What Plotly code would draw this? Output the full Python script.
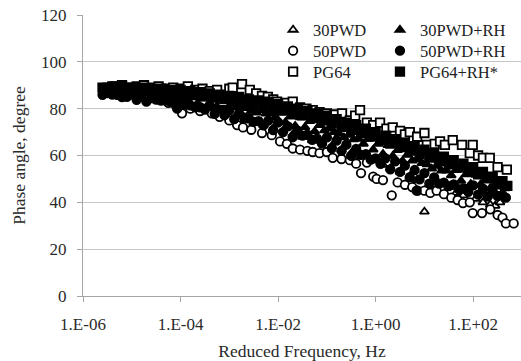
import plotly.graph_objects as go

# ---------------- data (log10 of reduced frequency in Hz, phase angle in degrees) ----------------
logf_30pwd = [-5.50, -5.30, -5.10, -4.90, -4.70, -4.50, -4.30, -4.10, -3.90, -3.70, -3.50, -3.30,
              -3.10, -2.90, -2.70, -2.50, -2.30, -2.10, -1.90, -1.70, -1.50, -1.30, -1.10, -0.90,
              -0.70, -0.50, -0.30, -0.10, 0.15, 0.30, 0.50, 0.70, 0.85, 1.00, 1.10, 1.25, 1.37,
              1.50, 1.65, 1.80, 1.90, 2.05, 2.20, 2.35, 2.45, 2.55]
deg_30pwd = [86.5, 86, 85.5, 85, 84, 83.5, 83, 82, 81, 80, 79.5, 78.5,
             77.5, 76, 75, 74, 73, 71.5, 70.5, 69, 68, 66.5, 65.5, 64,
             62.5, 61, 59.5, 58, 56, 54.5, 53, 51, 49.5, 36, 47.5, 45.5, 55,
             46.5, 44, 43, 46.5, 41.5, 40, 39, 38.5, 40]

logf_30pwd_rh = [-5.55, -5.45, -5.35, -5.25, -5.15, -5.05, -4.95, -4.85, -4.75, -4.65, -4.55, -4.45,
                 -4.35, -4.25, -4.15, -4.05, -3.95, -3.85, -3.75, -3.65, -3.55, -3.45, -3.35, -3.25,
                 -3.15, -3.05, -2.95, -2.85, -2.75, -2.65, -2.55, -2.45, -2.35, -2.25, -2.15, -2.05,
                 -1.95, -1.85, -1.75, -1.65, -1.55, -1.45, -1.35, -1.25, -1.15, -1.05, -0.95, -0.85,
                 -0.75, -0.65, -0.55, -0.45, -0.35, -0.25, -0.15, -0.05, 0.05, 0.15, 0.25, 0.35,
                 0.45, 0.55, 0.65, 0.75, 0.85, 0.95, 1.05, 1.15, 1.25, 1.35, 1.45, 1.55,
                 1.65, 1.75, 1.85, 1.95, 2.05, 2.15, 2.25, 2.35, 2.45, 2.55, 2.65]
deg_30pwd_rh = [88.6, 86.4, 88.1, 85.8, 88.8, 86.2, 87.7, 85.1, 87.0, 86.4, 86.1, 86.4,
                85.2, 85.1, 85.4, 84.9, 84.5, 83.8, 85.5, 82.4, 84.4, 81.4, 84.6, 81.3,
                83.3, 79.9, 82.1, 80.7, 81.0, 80.2, 79.1, 78.3, 79.3, 77.9, 77.9, 76.4,
                78.4, 74.2, 76.6, 72.6, 76.3, 72.1, 74.7, 70.3, 73.0, 70.7, 71.6, 70.0,
                69.4, 67.7, 68.8, 66.9, 67.1, 65.0, 67.1, 62.5, 65.0, 60.6, 64.4, 59.8,
                62.3, 57.7, 60.3, 57.8, 58.4, 56.8, 56.2, 54.4, 55.6, 53.5, 53.6, 51.5,
                53.8, 49.2, 51.9, 47.8, 51.7, 47.6, 49.7, 46.1, 47.8, 46.7, 46.0]

logf_50pwd = [-5.45, -5.25, -5.05, -4.85, -4.65, -4.45, -4.25, -4.10, -3.97, -3.80, -3.60, -3.36,
              -3.20, -3.00, -2.84, -2.72, -2.55, -2.33, -2.13, -1.96, -1.82, -1.70, -1.55, -1.40,
              -1.29, -1.15, -1.00, -0.88, -0.70, -0.53, -0.40, -0.30, -0.18, -0.05, 0.02, 0.15,
              0.33, 0.45, 0.60, 0.75, 0.86, 1.00, 1.12, 1.25, 1.40, 1.55, 1.68, 1.79, 1.93,
              1.99, 2.18, 2.35, 2.50, 2.60, 2.67, 2.83]
deg_50pwd = [87.5, 86.5, 86, 85.5, 84.5, 84, 82.5, 81.5, 78, 80, 79, 78,
             76.5, 75, 73, 72, 71, 69.6, 68.7, 66, 65, 63, 62.5, 62,
             61.5, 61, 61.5, 59, 58.5, 58, 56.5, 52.5, 57, 51, 50, 49.5,
             43, 48.5, 47.5, 46.5, 45, 45, 44, 45, 43.5, 42, 41, 39.7, 40,
             35.4, 35.4, 37, 34.6, 33.5, 31, 31]

logf_50pwd_rh = [-5.6, -5.5, -5.4, -5.3, -5.2, -5.1, -5.0, -4.9, -4.8, -4.7, -4.6, -4.5,
                 -4.4, -4.3, -4.2, -4.1, -4.07, -4.0, -3.9, -3.8, -3.7, -3.6, -3.5, -3.4,
                 -3.3, -3.2, -3.1, -3.0, -2.9, -2.8, -2.7, -2.6, -2.5, -2.4, -2.3, -2.2,
                 -2.1, -2.0, -1.9, -1.8, -1.7, -1.6, -1.5, -1.4, -1.3, -1.2, -1.1, -1.0,
                 -0.9, -0.8, -0.7, -0.6, -0.5, -0.4, -0.3, -0.2, -0.1, 0.0, 0.1, 0.2,
                 0.3, 0.4, 0.5, 0.6, 0.7, 0.8, 0.84, 0.9, 1.0, 1.1, 1.2, 1.3,
                 1.4, 1.5, 1.6, 1.7, 1.8, 1.9, 2.0, 2.1, 2.2, 2.3, 2.4, 2.5,
                 2.6, 2.67]
deg_50pwd_rh = [85.9, 86.7, 86.0, 85.9, 84.9, 85.0, 86.4, 83.8, 85.4, 83.0, 84.6, 83.9,
                83.4, 83.4, 82.9, 82.1, 80.0, 82.6, 81.8, 81.4, 80.6, 80.6, 79.6, 81.2,
                77.8, 80.5, 77.2, 79.3, 75.5, 78.0, 76.3, 75.9, 74.4, 74.7, 72.9, 74.9,
                70.8, 74.1, 70.0, 72.4, 67.8, 70.6, 68.5, 68.9, 66.7, 67.2, 65.1, 67.7,
                63.1, 66.4, 62.0, 64.6, 59.8, 62.8, 60.3, 60.6, 58.2, 58.8, 56.4, 58.8,
                54.1, 57.5, 53.0, 55.7, 50.8, 53.8, 45.0, 49.8, 52.5, 48.0, 50.7, 48.0,
                48.4, 46.9, 47.7, 45.6, 45.9, 44.5, 47.2, 43.3, 45.8, 42.5, 44.7, 42.7,
                43.1, 42.0]

logf_pg64 = [-5.50, -5.35, -5.20, -5.05, -4.90, -4.75, -4.60, -4.45, -4.30, -4.15, -4.00, -3.85,
             -3.70, -3.55, -3.40, -3.25, -3.13, -3.00, -2.93, -2.74, -2.58, -2.45, -2.33, -2.21,
             -2.10, -2.02, -1.85, -1.70, -1.55, -1.42, -1.29, -1.15, -1.00, -0.85, -0.69, -0.53,
             -0.42, -0.32, -0.18, -0.05, 0.09, 0.22, 0.35, 0.50, 0.60, 0.70, 0.85, 1.00, 1.05,
             1.21, 1.32, 1.42, 1.58, 1.77, 1.93, 1.99, 2.10, 2.20, 2.34, 2.50, 2.69]
deg_pg64 = [89, 89.5, 90, 89, 89.5, 90, 89, 89.5, 88.5, 89, 88.5, 89.5,
            88, 88.5, 87.5, 88, 83, 88.5, 89, 90.5, 88, 86.5, 85.5, 85,
            84, 83, 82.5, 83, 80.5, 80, 79.4, 78.5, 78, 77.5, 78, 75,
            77, 79.4, 74, 73, 74, 71.5, 72, 70.5, 69, 70, 68, 69.6, 64.5,
            65, 66, 64.5, 66.6, 64.5, 61, 64.5, 60, 59, 59, 55, 54]

logf_pg64_rh = [-5.6, -5.5, -5.4, -5.3, -5.2, -5.1, -5.0, -4.9, -4.8, -4.7, -4.6, -4.5,
                -4.4, -4.3, -4.2, -4.1, -4.0, -3.9, -3.8, -3.7, -3.6, -3.5, -3.4, -3.3,
                -3.2, -3.1, -3.0, -2.9, -2.8, -2.7, -2.6, -2.5, -2.4, -2.3, -2.2, -2.1,
                -2.0, -1.9, -1.8, -1.7, -1.6, -1.5, -1.4, -1.3, -1.2, -1.1, -1.0, -0.9,
                -0.8, -0.7, -0.6, -0.5, -0.4, -0.3, -0.2, -0.1, 0.0, 0.1, 0.2, 0.3,
                0.4, 0.5, 0.6, 0.7, 0.8, 0.9, 1.0, 1.1, 1.2, 1.3, 1.4, 1.5,
                1.6, 1.7, 1.8, 1.9, 2.0, 2.1, 2.2, 2.3, 2.4, 2.5, 2.6, 2.7]
deg_pg64_rh = [89.0, 88.2, 89.5, 88.4, 89.5, 88.3, 89.0, 87.8, 89.0, 87.7, 88.5, 87.3,
               88.5, 87.0, 88.0, 86.7, 88.0, 86.3, 87.5, 85.8, 87.0, 85.3, 86.5, 84.7,
               86.0, 84.1, 85.5, 83.5, 85.0, 82.6, 84.0, 81.8, 83.5, 81.1, 83.0, 80.3,
               82.0, 79.2, 81.0, 78.1, 80.0, 77.1, 79.0, 76.0, 78.0, 75.0, 77.0, 73.7,
               75.5, 72.2, 74.0, 71.0, 73.0, 69.6, 71.5, 68.1, 70.0, 66.6, 68.5, 65.1,
               67.0, 63.6, 65.5, 62.1, 64.0, 60.6, 62.5, 59.1, 61.0, 57.6, 59.5, 56.2,
               58.0, 54.8, 56.5, 53.4, 55.0, 51.9, 53.0, 50.2, 51.0, 48.5, 49.0, 47.0]

x_tick_exponents = [-6, -4, -2, 0, 2]
x_tick_labels = ["1.E-06", "1.E-04", "1.E-02", "1.E+00", "1.E+02"]
y_ticks = [0, 20, 40, 60, 80, 100, 120]

# ---------------- figure ----------------
FONT = "Liberation Serif, Times New Roman, serif"
fig = go.Figure()

# (name, x, y, symbol, fill, size, legend id, legend x, legend y)
series = [
    ("30PWD", logf_30pwd, deg_30pwd, "triangle-up", "white", 8, "legend", 0.434, 0.9466),
    ("30PWD+RH", logf_30pwd_rh, deg_30pwd_rh, "triangle-up", "black", 8, "legend2", 0.678, 0.9466),
    ("50PWD", logf_50pwd, deg_50pwd, "circle", "white", 8.5, "legend3", 0.434, 0.8719),
    ("50PWD+RH", logf_50pwd_rh, deg_50pwd_rh, "circle", "black", 8.5, "legend4", 0.678, 0.8719),
    ("PG64", logf_pg64, deg_pg64, "square", "white", 8.5, "legend5", 0.434, 0.7972),
    ("PG64+RH*", logf_pg64_rh, deg_pg64_rh, "square", "black", 8.5, "legend6", 0.678, 0.7972),
]

legends = {}
for name, lf, dg, sym, fill, size, leg, lx, ly in series:
    fig.add_trace(go.Scatter(
        x=[10 ** v for v in lf], y=dg, mode="markers", name=name, legend=leg,
        marker=dict(symbol=sym, color=fill, size=size,
                    line=dict(color="black", width=1.8)),
    ))
    legends[leg] = dict(x=lx, y=ly, xanchor="left", yanchor="middle",
                        bgcolor="rgba(0,0,0,0)", font=dict(size=16.5, color="#222222"),
                        borderwidth=0)

fig.update_layout(
    width=521, height=361,
    margin=dict(l=83, r=0, t=15, b=65),
    paper_bgcolor="white", plot_bgcolor="white",
    font=dict(family=FONT, size=17, color="#2a2a2a"),
    showlegend=True,
    xaxis=dict(
        type="log", range=[-6, 2.98],
        tickvals=[10 ** e for e in x_tick_exponents], ticktext=x_tick_labels,
        showgrid=False, zeroline=False,
        showline=True, linecolor="#a6a6a6", linewidth=1,
        ticks="outside", ticklen=5, tickcolor="#a6a6a6",
        ticklabelstandoff=8,
        title=dict(text="Reduced Frequency, Hz", standoff=12, font=dict(size=17.5)),
    ),
    yaxis=dict(
        range=[0, 120], tickvals=y_ticks,
        showgrid=True, gridcolor="#c6c6c6", gridwidth=1, zeroline=False,
        showline=True, linecolor="#a6a6a6", linewidth=1,
        ticks="outside", ticklen=5, tickcolor="#a6a6a6",
        ticklabelstandoff=7,
        title=dict(text="Phase angle, degree", standoff=10, font=dict(size=17.5)),
    ),
    shapes=[dict(type="rect", xref="paper", yref="paper",
                 x0=0.41, x1=1.0, y0=0.76, y1=0.99,
                 fillcolor="white", line=dict(width=0), layer="between")],
    **legends,
)

fig.write_html("out.html", config={"displayModeBar": False},
               post_script="document.body.style.margin='0px';")
